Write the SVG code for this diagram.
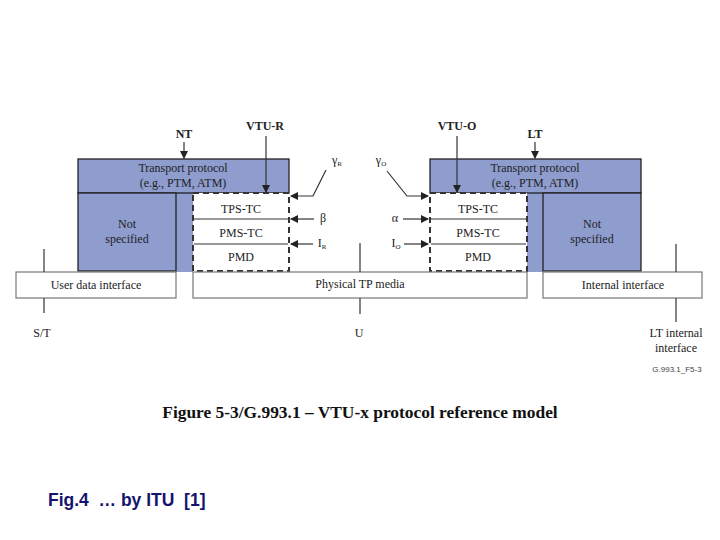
<svg xmlns="http://www.w3.org/2000/svg" width="720" height="540" viewBox="0 0 720 540">
<defs>
<style>
.t{font-family:"Liberation Serif","Times New Roman",serif;font-size:12px;fill:#222;text-anchor:middle}
.b{font-weight:bold}
.blue{fill:#8e9cce;stroke:#222;stroke-width:1.3}
.strip{fill:#8e9cce;stroke:none}
.box{fill:#fff;stroke:#777;stroke-width:1.2}
.dash{fill:#fff;stroke:#333;stroke-width:2;stroke-dasharray:6,4}
.ln{stroke:#333;stroke-width:1.2;fill:none}
</style>
<marker id="ah" markerWidth="8" markerHeight="8" refX="7" refY="4" orient="auto" markerUnits="userSpaceOnUse">
<path d="M0,0 L8,4 L0,8 Z" fill="#222"/>
</marker>
</defs>
<rect width="720" height="540" fill="#fff"/>

<g id="left-stack">
<rect class="strip" x="176" y="193" width="17" height="79"/>
<rect class="blue" x="78" y="159" width="211" height="34"/>
<text class="t" x="183" y="172">Transport protocol</text>
<text class="t" x="183" y="187">(e.g., PTM, ATM)</text>
<rect class="blue" x="78" y="193" width="98" height="78"/>
<text class="t" x="127" y="228">Not</text>
<text class="t" x="127" y="243">specified</text>
<rect class="dash" x="193" y="193" width="96" height="78"/>
<line class="ln" x1="194" y1="219" x2="288" y2="219"/>
<line class="ln" x1="194" y1="244" x2="288" y2="244"/>
<text class="t" x="241" y="213">TPS-TC</text>
<text class="t" x="241" y="237">PMS-TC</text>
<text class="t" x="241" y="261">PMD</text>
</g>

<g id="right-stack">
<rect class="strip" x="527" y="193" width="16" height="79"/>
<rect class="blue" x="430" y="159" width="211" height="34"/>
<text class="t" x="535" y="172">Transport protocol</text>
<text class="t" x="535" y="187">(e.g., PTM, ATM)</text>
<rect class="blue" x="543" y="193" width="98" height="78"/>
<text class="t" x="592" y="228">Not</text>
<text class="t" x="592" y="243">specified</text>
<rect class="dash" x="430" y="193" width="97" height="78"/>
<line class="ln" x1="431" y1="219" x2="526" y2="219"/>
<line class="ln" x1="431" y1="244" x2="526" y2="244"/>
<text class="t" x="478" y="213">TPS-TC</text>
<text class="t" x="478" y="237">PMS-TC</text>
<text class="t" x="478" y="261">PMD</text>
</g>

<g id="user-data-interface">
<rect class="box" x="16" y="272" width="160" height="26"/>
<text class="t" x="96" y="289">User data interface</text>
</g>
<g id="physical-media">
<rect class="box" x="193" y="272" width="334" height="26"/>
<text class="t" x="360" y="288">Physical TP media</text>
</g>
<g id="internal-interface">
<rect class="box" x="543" y="272" width="159" height="26"/>
<text class="t" x="623" y="289">Internal interface</text>
</g>

<g id="labels">
<text class="t b" x="184" y="138">NT</text>
<text class="t b" x="265" y="130">VTU-R</text>
<text class="t b" x="457" y="130">VTU-O</text>
<text class="t b" x="535" y="138">LT</text>
<text class="t" x="337" y="164">γ<tspan font-size="7" dy="2">R</tspan></text>
<text class="t" x="381" y="164">γ<tspan font-size="7" dy="2">O</tspan></text>
<text class="t" x="323" y="222">β</text>
<text class="t" x="395" y="222">α</text>
<text class="t" x="322" y="247">I<tspan font-size="7" dy="2">R</tspan></text>
<text class="t" x="396" y="247">I<tspan font-size="7" dy="2">O</tspan></text>
<text class="t" x="42" y="337">S/T</text>
<text class="t" x="359" y="337">U</text>
<text class="t" x="676" y="337">LT internal</text>
<text class="t" x="676" y="352">interface</text>
<text x="677" y="372" font-family="Liberation Sans, Arial, sans-serif" font-size="8" fill="#444" text-anchor="middle">G.993.1_F5-3</text>
</g>

<g id="connectors">
<line class="ln" x1="184" y1="142" x2="184" y2="158" marker-end="url(#ah)"/>
<line class="ln" x1="266" y1="136" x2="266" y2="192" marker-end="url(#ah)"/>
<line class="ln" x1="457" y1="136" x2="457" y2="192" marker-end="url(#ah)"/>
<line class="ln" x1="535" y1="142" x2="535" y2="158" marker-end="url(#ah)"/>
<polyline class="ln" points="326,170 313,196 291,196" marker-end="url(#ah)"/>
<line class="ln" x1="314" y1="219" x2="291" y2="219" marker-end="url(#ah)"/>
<line class="ln" x1="313" y1="244" x2="291" y2="244" marker-end="url(#ah)"/>
<polyline class="ln" points="387,171 407,196 428,196" marker-end="url(#ah)"/>
<line class="ln" x1="403" y1="219" x2="428" y2="219" marker-end="url(#ah)"/>
<line class="ln" x1="404" y1="244" x2="428" y2="244" marker-end="url(#ah)"/>
<line class="ln" x1="44" y1="249" x2="44" y2="272"/>
<line class="ln" x1="44" y1="298" x2="44" y2="313"/>
<line class="ln" x1="360" y1="243" x2="360" y2="272"/>
<line class="ln" x1="360" y1="298" x2="360" y2="314"/>
<line class="ln" x1="676" y1="244" x2="676" y2="272"/>
<line class="ln" x1="676" y1="298" x2="676" y2="322"/>
</g>

<text x="360" y="418" font-family="Liberation Serif, Times New Roman, serif" font-size="17.4" font-weight="bold" fill="#111" text-anchor="middle">Figure 5-3/G.993.1 – VTU-x protocol reference model</text>
<text x="48" y="506" font-family="Liberation Sans, Arial, sans-serif" font-size="17.5" font-weight="bold" fill="#14146e" style="white-space:pre">Fig.4  … by ITU  [1]</text>
</svg>
